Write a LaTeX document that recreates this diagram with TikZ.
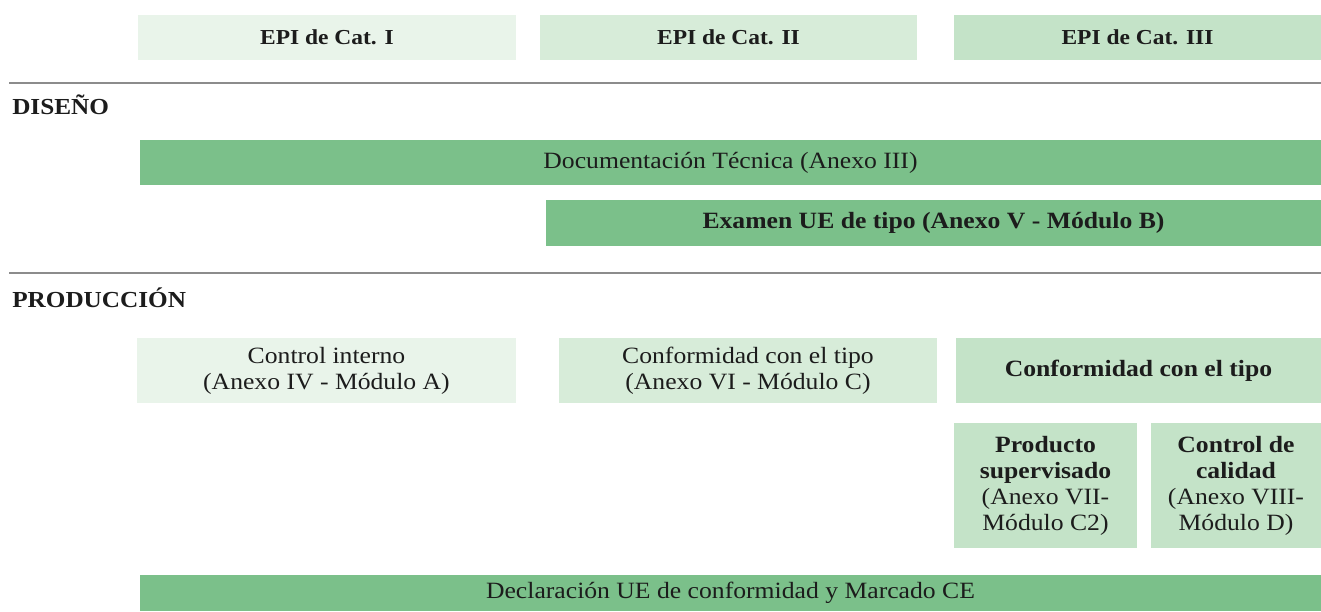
\documentclass[tikz,border=0pt]{standalone}
\usepackage{fontspec}
\setmainfont{Liberation Serif}[FakeStretch=1.1]
\usepackage{tikz}
\definecolor{catone}{HTML}{E9F4EA}
\definecolor{cattwo}{HTML}{D7ECD9}
\definecolor{catthree}{HTML}{C4E3C8}
\definecolor{epigreen}{HTML}{7BC08A}
\definecolor{rulegray}{HTML}{8C8C8C}
\definecolor{inkblack}{HTML}{1C1C1C}

\begin{document}
\begin{tikzpicture}[x=0.75pt, y=-0.75pt,
    box/.style={inner sep=0pt, align=center, text=inkblack,
                font=\fontsize{17.5}{19.5}\selectfont},
    boldbox/.style={box, font=\fontsize{17.5}{19.5}\selectfont\bfseries},
    catbox/.style={box, font=\fontsize{16}{19.5}\selectfont\bfseries,
                   minimum height=33.75pt},
    rowlabel/.style={anchor=west, inner sep=0pt, text=inkblack,
                     font=\fontsize{17.2}{19.5}\selectfont\bfseries}]
    \useasboundingbox (0,0) rectangle (1321,611);

    % Categories
    \node[catbox, fill=catone, minimum width=283.5pt] (catI) at (327,37.5) {EPI de Cat. I};
    \node[catbox, fill=cattwo, minimum width=282.75pt] (catII) at (728.5,37.5) {EPI de Cat. II};
    \node[catbox, fill=catthree, minimum width=275.25pt] (catIII) at (1137.5,37.5) {EPI de Cat. III};

    % Separators
    \coordinate (sepA) at (9,83);
    \coordinate (sepAend) at (1321,83);
    \coordinate (sepB) at (9,273);
    \coordinate (sepBend) at (1321,273);
    \draw[rulegray, line width=1.5pt] (sepA) -- (sepAend);
    \draw[rulegray, line width=1.5pt] (sepB) -- (sepBend);

    % Design
    \node[rowlabel] (diseno) at (12,105) {DISEÑO};
    \node[box, fill=epigreen, minimum width=885.75pt, minimum height=33.75pt] (docu) at (730.5,162.5) {Documentación Técnica (Anexo III)};
    \node[boldbox, fill=epigreen, minimum width=581.25pt, minimum height=34.5pt] (examen) at (933.5,223) {Examen UE de tipo (Anexo V - Módulo B)};

    % Production
    \node[rowlabel] (produccion) at (12,298) {PRODUCCIÓN};
    \node[box, fill=catone, minimum width=284.25pt, minimum height=48.75pt] (ctrlint) at (326.5,370.5) {Control interno\\(Anexo IV - Módulo A)};
    \node[box, fill=cattwo, minimum width=283.5pt, minimum height=48.75pt] (confII) at (748,370.5) {Conformidad con el tipo\\(Anexo VI - Módulo C)};
    \node[boldbox, fill=catthree, minimum width=273.75pt, minimum height=48.75pt] (confIII) at (1138.5,370.5) {Conformidad con el tipo};
    \node[box, fill=catthree, minimum width=137.25pt, minimum height=93.75pt] (producto) at (1045.5,485.5) {\textbf{Producto}\\\textbf{supervisado}\\(Anexo VII-\\Módulo C2)};
    \node[box, fill=catthree, minimum width=127.5pt, minimum height=93.75pt] (calidad) at (1236,485.5) {\textbf{Control de}\\\textbf{calidad}\\(Anexo VIII-\\Módulo D)};

    % Declaration
    \node[box, fill=epigreen, minimum width=885.75pt, minimum height=27pt] (declara) at (730.5,593) {Declaración UE de conformidad y Marcado CE};
\end{tikzpicture}
\end{document}
